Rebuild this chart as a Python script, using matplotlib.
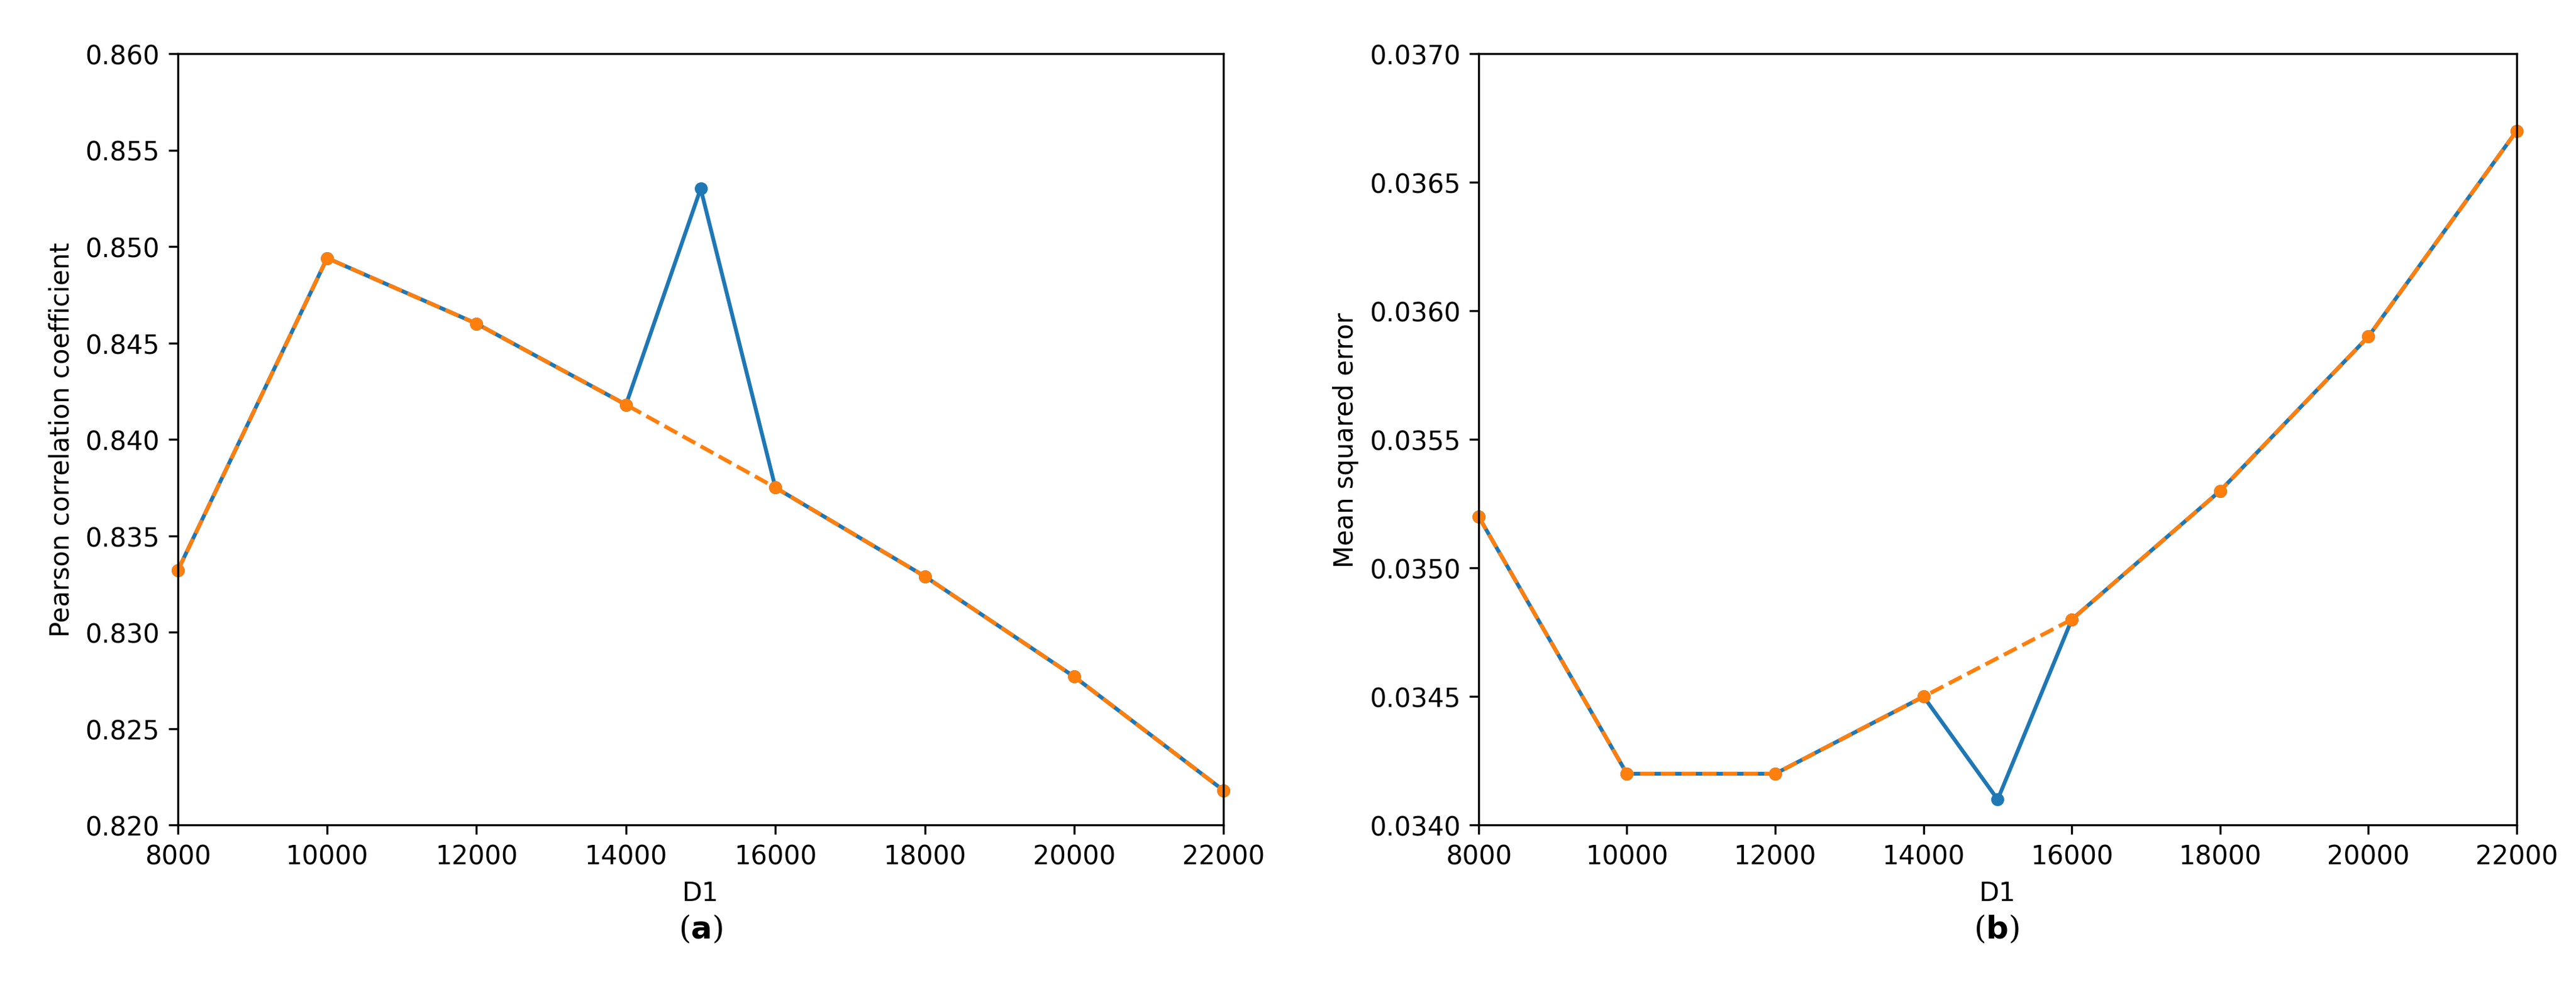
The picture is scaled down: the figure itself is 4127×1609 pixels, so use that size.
import matplotlib
matplotlib.use("Agg")
import matplotlib.pyplot as plt

x_blue = [8000, 10000, 12000, 14000, 15000, 16000, 18000, 20000, 22000]
x_orange = [8000, 10000, 12000, 14000, 16000, 18000, 20000, 22000]
pcc_blue = [0.8332, 0.8494, 0.8460, 0.8418, 0.8530, 0.8375, 0.8329, 0.8277, 0.8218]
pcc_orange = [0.8332, 0.8494, 0.8460, 0.8418, 0.8375, 0.8329, 0.8277, 0.8218]
mse_blue = [0.0352, 0.0342, 0.0342, 0.0345, 0.0341, 0.0348, 0.0353, 0.0359, 0.0367]
mse_orange = [0.0352, 0.0342, 0.0342, 0.0345, 0.0348, 0.0353, 0.0359, 0.0367]
xticks = [8000, 10000, 12000, 14000, 16000, 18000, 20000, 22000]

fig = plt.figure(figsize=(4127/300, 1610/300), dpi=300)
ax1 = fig.add_axes([0.069, 0.178, 0.406, 0.768])
ax2 = fig.add_axes([0.574, 0.178, 0.403, 0.768])

for ax, yb, yo, ylim, yt, ylab, fmt in [
    (ax1, pcc_blue, pcc_orange, (0.82, 0.86), [0.82 + 0.005*i for i in range(9)], "Pearson correlation coefficient", "{:.3f}"),
    (ax2, mse_blue, mse_orange, (0.034, 0.037), [0.034 + 0.0005*i for i in range(7)], "Mean squared error", "{:.4f}"),
]:
    ax.plot(x_blue, yb, '-o', color='#1f77b4', markersize=4, linewidth=1.5, clip_on=False)
    ax.plot(x_orange, yo, '--o', color='#ff7f0e', markersize=4, linewidth=1.5, clip_on=False)
    ax.set_xlim(8000, 22000)
    ax.set_ylim(*ylim)
    ax.set_xticks(xticks)
    ax.set_yticks(yt)
    ax.set_yticklabels([fmt.format(v) for v in yt])
    ax.set_xlabel("D1", fontsize=10)
    ax.set_ylabel(ylab, fontsize=10)
    ax.tick_params(labelsize=10)

fig.text(0.272, 0.075, r"($\mathbf{a}$)", ha='center', va='center', fontsize=12, family='DejaVu Serif')
fig.text(0.775, 0.075, r"($\mathbf{b}$)", ha='center', va='center', fontsize=12, family='DejaVu Serif')
fig.savefig("out.png", dpi=300)
